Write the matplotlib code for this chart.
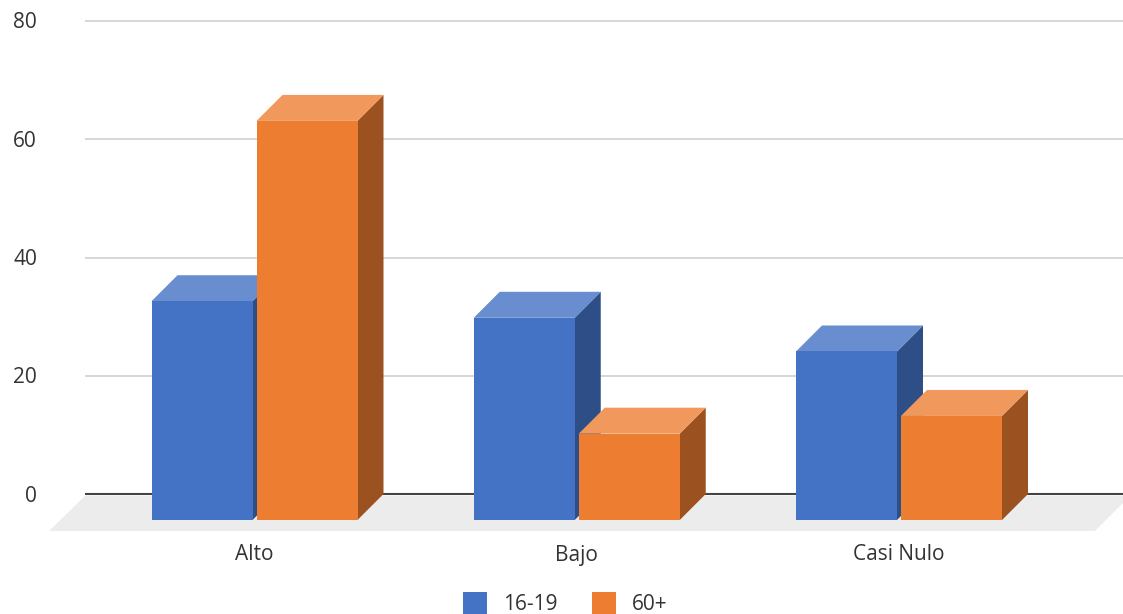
import matplotlib
matplotlib.use("Agg")
import matplotlib.pyplot as plt
from matplotlib.patches import Polygon, FancyBboxPatch

plt.rcParams['font.family'] = ['Open Sans', 'DejaVu Sans']

categories = ["Alto", "Bajo", "Casi Nulo"]
series_names = ["16-19", "60+"]
values_1619 = [37.0, 34.2, 28.5]
values_60 = [67.5, 14.6, 17.6]
yticks = [0, 20, 40, 60, 80]

# colours: front, top, side
colors = {
    "16-19": ("#4472C4", "#698ED0", "#2E4E87"),
    "60+": ("#ED7D31", "#F1995D", "#9C5220"),
}
text_color = "#333333"
fs = 15

W, H = 1123, 614
fig = plt.figure(figsize=(W / 100, H / 100), dpi=100)
ax = fig.add_axes([0, 0, 1, 1])
ax.set_axis_off()

# pixel layout
cx0 = 254.5      # pixel x of first category centre
pcat = 322.25    # pixels per category
y0px = 494.0     # pixel y of value 0
pval = 5.9125    # pixels per value unit

def px2x(p):
    return (p - cx0) / pcat

def py2y(p):
    return (y0px - p) / pval

ax.set_xlim(px2x(0), px2x(W))
ax.set_ylim(py2y(H), py2y(0))

dx = 26 / pcat
dy = 26 / pval
bw = 101 / pcat
gap = 4 / pcat
txt_shift = 2 / pval

# floor
floor = Polygon([(px2x(85), py2y(496)), (px2x(1130), py2y(496)),
                 (px2x(1095), py2y(531)), (px2x(49), py2y(531))],
                closed=True, facecolor="#ECECEC", edgecolor="none", zorder=0)
ax.add_patch(floor)

# gridlines
for t in yticks:
    if t == 0:
        ax.plot([px2x(85), px2x(W)], [0, 0], color="#444444", lw=1.5, zorder=1,
                solid_capstyle="butt")
    else:
        ax.plot([px2x(85), px2x(W)], [t, t], color="#CCCCCC", lw=1.1, zorder=1,
                solid_capstyle="butt")
    ax.text(px2x(37), t - txt_shift, str(t), ha="right", va="center", fontsize=fs,
            color=text_color)

def draw_bar(x0, v, cols, z):
    front, top, side = cols
    x1 = x0 + bw
    yb = -dy
    yt = v - dy
    ax.add_patch(Polygon([(x1, yb), (x1 + dx, 0), (x1 + dx, v), (x1, yt)],
                         closed=True, facecolor=side, edgecolor="none", zorder=z))
    ax.add_patch(Polygon([(x0, yt), (x1, yt), (x1 + dx, v), (x0 + dx, v)],
                         closed=True, facecolor=top, edgecolor="none", zorder=z))
    ax.add_patch(Polygon([(x0, yb), (x1, yb), (x1, yt), (x0, yt)],
                         closed=True, facecolor=front, edgecolor="none", zorder=z))

for i, cat in enumerate(categories):
    draw_bar(i - bw - gap / 2, values_1619[i], colors["16-19"], 2 + i * 2)
    draw_bar(i + gap / 2, values_60[i], colors["60+"], 3 + i * 2)
    ax.text(i, py2y(555), cat, ha="center", va="center", fontsize=fs,
            color=text_color)

# legend
leg_items = [(463, 503, "16-19"), (592, 632, "60+")]
for sx, tx, name in leg_items:
    sq = FancyBboxPatch((px2x(sx), py2y(616)), 24 / pcat, 24 / pval,
                        boxstyle="round,pad=0,rounding_size=0.004",
                        facecolor=colors[name][0], edgecolor="none",
                        clip_on=False, zorder=5)
    ax.add_patch(sq)
    ax.text(px2x(tx), py2y(604), name, ha="left", va="center", fontsize=fs,
            color=text_color)

fig.savefig("out.png", dpi=100)
